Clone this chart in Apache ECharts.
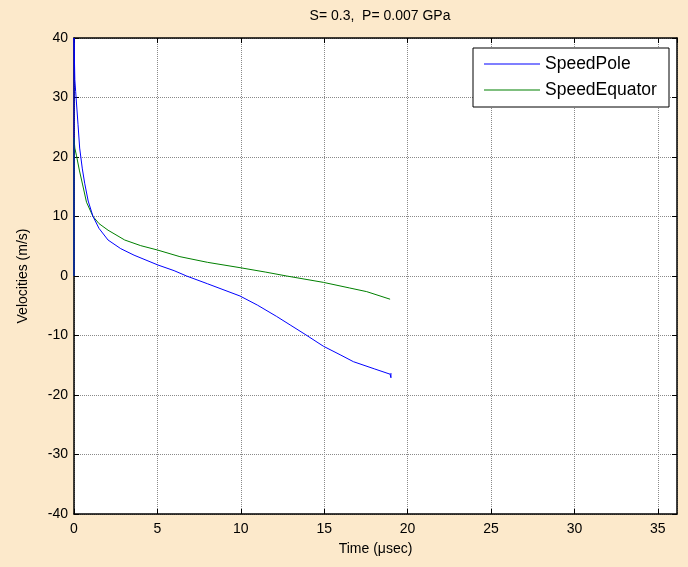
<!DOCTYPE html>
<html>
<head>
<meta charset="utf-8">
<script src="https://cdn.jsdelivr.net/npm/echarts@6/dist/echarts.min.js"></script>
<style>
html,body{margin:0;padding:0;background:#FCE9CB;}
#chart{width:688px;height:567px;}
</style>
</head>
<body>
<div id="chart"></div>
<script>
// Data
var titleText = "S= 0.3,  P= 0.007 GPa";
var xAxisName = "Time (\u03bcsec)";
var yAxisName = "Velocities (m/s)";
var seriesNames = ["SpeedPole", "SpeedEquator"];

var poleTime  = [0, 0, 0.05, 0.1, 0.24, 0.34, 0.5, 0.64, 0.85, 1.14, 1.5, 2.04, 2.8, 3.6, 5.03, 6.0, 6.75, 8.0, 9.95, 11.0, 12.15, 13.0, 13.85, 14.95, 16.0, 16.75, 18.0, 18.95, 19.0, 19.0];
var poleSpeed = [0, 40, 33, 31, 25.5, 21.5, 18, 15.6, 12.6, 10, 8, 6.05, 4.6, 3.5, 1.85, 0.9, 0, -1.3, -3.36, -4.9, -6.8, -8.3, -9.8, -11.8, -13.3, -14.4, -15.6, -16.5, -17.1, -16.3];

var eqTime  = [0, 0, 0.05, 0.15, 0.32, 0.52, 0.75, 1.14, 1.5, 2.04, 3.04, 4.0, 5.0, 6.35, 8.0, 9.95, 11.5, 12.75, 14.95, 16.5, 17.55, 18.95];
var eqSpeed = [0, 23.2, 21.5, 20.2, 17.8, 15.3, 12.4, 10, 8.8, 7.7, 6.05, 5.1, 4.37, 3.25, 2.3, 1.4, 0.65, 0, -1.07, -2.0, -2.63, -3.9];

var xTicks = [0, 5, 10, 15, 20, 25, 30, 35];
var yTicks = [-40, -30, -20, -10, 0, 10, 20, 30, 40];

function pairs(xs, ys){ return xs.map(function(x,i){ return [x, ys[i]]; }); }

var font = "'Liberation Sans', Arial, sans-serif";
var chart = echarts.init(document.getElementById('chart'), null, {renderer:'canvas'});
var xMin = 0, xMax = 36.15, yMin = yTicks[0], yMax = yTicks[yTicks.length-1];

var gridLine = {show:true, lineStyle:{color:'#8a8a8a', type:[1,1], width:1}};
var lineIcon = 'path://M0,0 L56,0 L56,1 L0,1 Z';
chart.setOption({
  backgroundColor:'#FCE9CB',
  animation:false,
  title:{text:titleText, left:375, top:4, textAlign:'center',
    textStyle:{fontFamily:font, fontSize:14, fontWeight:'normal', color:'#000'}},
  legend:{
    data:[{name:seriesNames[0], icon:lineIcon}, {name:seriesNames[1], icon:lineIcon}],
    orient:'vertical', left:473, top:48,
    backgroundColor:'#fff', borderColor:'#000', borderWidth:1,
    padding:[6,8,7,11], itemGap:6, itemWidth:56, itemHeight:1,
    textStyle:{fontFamily:font, fontSize:17.5, lineHeight:20, color:'#000', width:116}
  },
  grid:{left:74, right:11, top:38, bottom:53, show:true, backgroundColor:'#fff', borderWidth:0},
  xAxis:[{
    type:'value', min:xMin, max:xMax, interval:5,
    name:xAxisName, nameLocation:'middle', nameGap:28,
    nameTextStyle:{fontFamily:font, fontSize:14, color:'#000'},
    axisLine:{show:true, onZero:false, lineStyle:{color:'#000', width:1.5}},
    axisTick:{show:true, inside:true, length:5, lineStyle:{color:'#000'}},
    axisLabel:{fontFamily:font, fontSize:14, color:'#000', margin:8, showMaxLabel:false,
      formatter:function(v){ return xTicks.indexOf(v) >= 0 ? String(v) : ''; }},
    splitLine:gridLine
  },{
    type:'value', position:'top', min:xMin, max:xMax, interval:5,
    axisLine:{show:true, onZero:false, lineStyle:{color:'#000', width:1.5}},
    axisTick:{show:true, inside:true, length:5, lineStyle:{color:'#000'}},
    axisLabel:{show:false}, splitLine:{show:false}
  }],
  yAxis:[{
    type:'value', min:yMin, max:yMax, interval:10,
    name:yAxisName, nameLocation:'middle', nameGap:44,
    nameTextStyle:{fontFamily:font, fontSize:14, color:'#000'},
    axisLine:{show:true, onZero:false, lineStyle:{color:'#000', width:1.5}},
    axisTick:{show:true, inside:true, length:5, lineStyle:{color:'#000'}},
    axisLabel:{fontFamily:font, fontSize:14, color:'#000', margin:6,
      formatter:function(v){ return yTicks.indexOf(v) >= 0 ? String(v) : ''; }},
    splitLine:gridLine
  },{
    type:'value', position:'right', min:yMin, max:yMax, interval:10,
    axisLine:{show:true, onZero:false, lineStyle:{color:'#000', width:1.5}},
    axisTick:{show:true, inside:true, length:5, lineStyle:{color:'#000'}},
    axisLabel:{show:false}, splitLine:{show:false}
  }],
  series:[{
    name:seriesNames[0], type:'line', data:pairs(poleTime, poleSpeed),
    showSymbol:false, symbol:'none', lineStyle:{color:'#0000FF', width:1}, itemStyle:{color:'#0000FF'}, z:3
  },{
    name:seriesNames[1], type:'line', data:pairs(eqTime, eqSpeed),
    showSymbol:false, symbol:'none', lineStyle:{color:'#008000', width:1}, itemStyle:{color:'#008000'}, z:2
  }]
});
</script>
</body>
</html>
